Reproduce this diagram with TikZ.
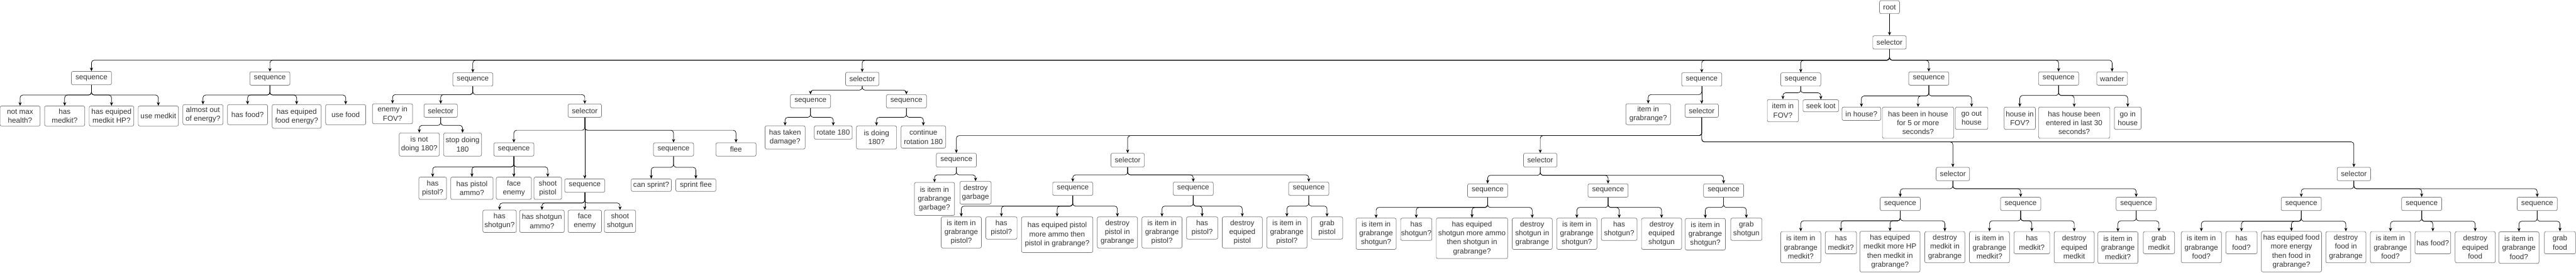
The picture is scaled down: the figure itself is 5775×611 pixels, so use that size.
\documentclass[tikz,border=0pt]{standalone}
\usepackage{fontspec}
\setmainfont{Liberation Sans}
\usetikzlibrary{arrows.meta,calc}
\definecolor{bstroke}{HTML}{767676}
\definecolor{btext}{HTML}{333333}
\tikzset{
 bnode/.style={draw=bstroke, line width=1pt, rounded corners=3.5pt, fill=white, text=btext, inner sep=0pt, align=center, font=\fontsize{16.5pt}{20pt}\selectfont},
 conn/.style={draw=black, line width=1pt, rounded corners=6pt, -{Stealth[length=8pt,width=7pt]}}
}
\newcommand\bx[6]{\node[bnode,minimum width=#4pt,minimum height=#5pt] (#1) at (#2pt,-#3pt) {#6};}
\newcommand\ed[3]{\draw[conn] let \p1=(#1.south), \p2=(#2.north) in (\p1) -- (\x1,-#3pt) -- (\x2,-#3pt) -- (\p2);}
\newcommand\sed[2]{\draw[conn] (#1.south) -- (#2.north);}
\begin{document}
\begin{tikzpicture}
\useasboundingbox (0pt,0pt) rectangle (5775pt,-611pt);
% top
\bx{root}{4236}{16}{45}{29}{root}
\bx{sel0}{4236}{95}{75}{30}{selector}
% A
\bx{A}{205}{175}{90}{30}{sequence}
\bx{a1}{45}{260}{90}{45}{not max\\health?}
\bx{a2}{145}{260}{90}{45}{has\\medkit?}
\bx{a3}{250}{260}{100}{45}{has equiped\\medkit HP?}
\bx{a4}{355}{260}{90}{45}{use medkit}
% B
\bx{B}{605}{176}{90}{30}{sequence}
\bx{b1}{455}{257}{90}{45}{almost out\\of energy?}
\bx{b2}{555}{257}{90}{45}{has food?}
\bx{b3}{665}{261}{110}{53}{has equiped\\food energy?}
\bx{b4}{775}{257}{90}{45}{use food}
% C
\bx{C}{1060}{178}{90}{30}{sequence}
\bx{c1}{880}{255}{90}{45}{enemy in\\FOV?}
\bx{c2}{988}{248}{75}{30}{selector}
\bx{c21}{940}{324}{90}{52}{is not\\doing 180?}
\bx{c22}{1037}{324}{85}{52}{stop doing\\180}
\bx{c3}{1311}{248}{75}{30}{selector}
\bx{c31}{1152}{335}{90}{30}{sequence}
\bx{c311}{970}{422}{62}{50}{has\\pistol?}
\bx{c312}{1058}{422}{95}{50}{has pistol\\ammo?}
\bx{c313}{1152}{422}{79}{50}{face\\enemy}
\bx{c314}{1228}{422}{62}{50}{shoot\\pistol}
\bx{c32}{1311}{416}{90}{30}{sequence}
\bx{c321}{1120}{496}{75}{50}{has\\shotgun?}
\bx{c322}{1215}{496}{100}{50}{has shotgun\\ammo?}
\bx{c323}{1311}{496}{75}{50}{face\\enemy}
\bx{c324}{1390}{496}{70}{50}{shoot\\shotgun}
\bx{c33}{1510}{335}{90}{30}{sequence}
\bx{c331}{1460}{415}{90}{28}{can sprint?}
\bx{c332}{1560}{415}{90}{28}{sprint flee}
\bx{c34}{1650}{335}{90}{30}{flee}
% D
\bx{D}{1933}{177}{75}{30}{selector}
\bx{d1}{1817}{227}{90}{30}{sequence}
\bx{d11}{1760}{308}{90}{52}{has taken\\damage?}
\bx{d12}{1868}{297}{85}{30}{rotate 180}
\bx{d2}{2032}{227}{90}{30}{sequence}
\bx{d21}{1965}{308}{90}{52}{is doing\\180?}
\bx{d22}{2070}{307}{100}{50}{continue\\rotation 180}
% E
\bx{E}{3815}{178}{90}{30}{sequence}
\bx{e1}{3695}{256}{100}{47}{item in\\grabrange?}
\bx{e2}{3815}{248}{75}{30}{selector}
\bx{f1}{2144}{359}{90}{31}{sequence}
\bx{f11}{2095}{446}{90}{74}{is item in\\grabrange\\garbage?}
\bx{f12}{2187}{432}{70}{51}{destroy\\garbage}
\bx{g}{2528}{359}{75}{31}{selector}
\bx{g1}{2405}{423}{90}{30}{sequence}
\bx{g11}{2155}{521}{90}{70}{is item in\\grabrange\\pistol?}
\bx{g12}{2245}{511}{70}{50}{has\\pistol?}
\bx{g13}{2370}{526}{160}{80}{has equiped pistol\\more ammo then\\pistol in grabrange?}
\bx{g14}{2505}{521}{90}{70}{destroy\\pistol in\\grabrange}
\bx{g2}{2675}{423}{90}{30}{sequence}
\bx{g21}{2605}{521}{90}{70}{is item in\\grabrange\\pistol?}
\bx{g22}{2695}{511}{70}{50}{has\\pistol?}
\bx{g23}{2785}{521}{90}{70}{destroy\\equiped\\pistol}
\bx{g3}{2934}{423}{90}{30}{sequence}
\bx{g31}{2885}{521}{90}{70}{is item in\\grabrange\\pistol?}
\bx{g32}{2975}{511}{70}{50}{grab\\pistol}
\bx{h}{3453}{359}{75}{31}{selector}
\bx{h1}{3335}{427}{90}{30}{sequence}
\bx{h11}{3085}{524}{90}{70}{is item in\\grabrange\\shotgun?}
\bx{h12}{3175}{514}{70}{50}{has\\shotgun?}
\bx{h13}{3300}{534}{160}{91}{has equiped\\shotgun more ammo\\then shotgun in\\grabrange?}
\bx{h14}{3435}{524}{90}{70}{destroy\\shotgun in\\grabrange}
\bx{h2}{3605}{427}{90}{30}{sequence}
\bx{h21}{3535}{524}{90}{70}{is item in\\grabrange\\shotgun?}
\bx{h22}{3630}{514}{80}{50}{has\\shotgun?}
\bx{h23}{3725}{524}{90}{70}{destroy\\equiped\\shotgun}
\bx{h3}{3864}{427}{90}{30}{sequence}
\bx{h31}{3823}{525}{90}{71}{is item in\\grabrange\\shotgun?}
\bx{h32}{3915}{514}{70}{50}{grab\\shotgun}
\bx{i}{4378}{390}{75}{30}{selector}
\bx{i1}{4260}{457}{90}{30}{sequence}
\bx{i11}{4037}{554}{90}{70}{is item in\\grabrange\\medkit?}
\bx{i12}{4127}{544}{70}{50}{has\\medkit?}
\bx{i13}{4237}{564}{135}{91}{has equiped\\medkit more HP\\then medkit in\\grabrange?}
\bx{i14}{4360}{554}{90}{70}{destroy\\medkit in\\grabrange}
\bx{i2}{4530}{457}{90}{30}{sequence}
\bx{i21}{4460}{554}{90}{70}{is item in\\grabrange\\medkit?}
\bx{i22}{4555}{544}{80}{50}{has\\medkit?}
\bx{i23}{4650}{554}{90}{70}{destroy\\equiped\\medkit}
\bx{i3}{4789}{457}{90}{30}{sequence}
\bx{i31}{4748}{555}{90}{71}{is item in\\grabrange\\medkit?}
\bx{i32}{4840}{544}{70}{50}{grab\\medkit}
\bx{j}{5277}{390}{75}{30}{selector}
\bx{j1}{5159}{457}{90}{30}{sequence}
\bx{j11}{4935}{554}{90}{70}{is item in\\grabrange\\food?}
\bx{j12}{5025}{544}{70}{50}{has\\food?}
\bx{j13}{5137}{564}{135}{91}{has equiped food\\more energy\\then food in\\grabrange?}
\bx{j14}{5259}{554}{90}{70}{destroy\\food in\\grabrange}
\bx{j2}{5429}{457}{90}{30}{sequence}
\bx{j21}{5359}{554}{90}{70}{is item in\\grabrange\\food?}
\bx{j22}{5454}{544}{80}{50}{has food?}
\bx{j23}{5549}{554}{90}{70}{destroy\\equiped\\food}
\bx{j3}{5688}{457}{90}{30}{sequence}
\bx{j31}{5647}{555}{90}{71}{is item in\\grabrange\\food?}
\bx{j32}{5739}{544}{70}{50}{grab\\food}
% F
\bx{F}{4037}{178}{90}{30}{sequence}
\bx{k1}{3997}{248}{70}{50}{item in\\FOV?}
\bx{k2}{4082}{237}{80}{27}{seek loot}
% G
\bx{G}{4324}{176}{90}{30}{sequence}
\bx{l1}{4173}{255}{87}{30}{in house?}
\bx{l2}{4300}{275}{160}{70}{has been in house\\for 5 or more\\seconds?}
\bx{l3}{4420}{265}{73}{50}{go out\\house}
% H
\bx{H}{4615}{176}{90}{30}{sequence}
\bx{m1}{4528}{265}{70}{50}{house in\\FOV?}
\bx{m2}{4650}{275}{160}{70}{has house been\\entered in last 30\\seconds?}
\bx{m3}{4770}{265}{60}{50}{go in\\house}
\bx{w}{4735}{176}{69}{30}{wander}
% edges
\sed{root}{sel0}
\foreach \c in {A,B,C,D,E,F,G,H,w} {\ed{sel0}{\c}{135}}
\foreach \c in {a1,a2,a3,a4} {\ed{A}{\c}{213}}
\foreach \c in {b1,b2,b3,b4} {\ed{B}{\c}{213}}
\foreach \c in {c1,c2,c3} {\ed{C}{\c}{212}}
\foreach \c in {c21,c22} {\ed{c2}{\c}{281}}
\foreach \c in {c31,c33,c34} {\ed{c3}{\c}{292}}
\sed{c3}{c32}
\foreach \c in {c311,c312,c314} {\ed{c31}{\c}{374}}
\sed{c31}{c313}
\foreach \c in {c321,c322,c324} {\ed{c32}{\c}{455}}
\sed{c32}{c323}
\foreach \c in {c331,c332} {\ed{c33}{\c}{375}}
\foreach \c in {d1,d2} {\ed{D}{\c}{202}}
\foreach \c in {d11,d12} {\ed{d1}{\c}{263}}
\foreach \c in {d21,d22} {\ed{d2}{\c}{263}}
\ed{E}{e1}{212}
\sed{E}{e2}
\foreach \c in {f1,g,h} {\ed{e2}{\c}{304}}
\foreach \c in {i,j} {\ed{e2}{\c}{318}}
\foreach \c in {f11,f12} {\ed{f1}{\c}{392}}
\foreach \c in {g1,g2,g3} {\ed{g}{\c}{392}}
\foreach \c in {g11,g12,g13,g14} {\ed{g1}{\c}{462}}
\foreach \c in {g21,g22,g23} {\ed{g2}{\c}{462}}
\foreach \c in {g31,g32} {\ed{g3}{\c}{462}}
\foreach \c in {h1,h2,h3} {\ed{h}{\c}{393}}
\foreach \c in {h11,h12,h13,h14} {\ed{h1}{\c}{465}}
\foreach \c in {h21,h22,h23} {\ed{h2}{\c}{465}}
\foreach \c in {h31,h32} {\ed{h3}{\c}{465}}
\foreach \c in {i1,i2,i3} {\ed{i}{\c}{423}}
\foreach \c in {i11,i12,i13,i14} {\ed{i1}{\c}{495}}
\foreach \c in {i21,i22,i23} {\ed{i2}{\c}{495}}
\foreach \c in {i31,i32} {\ed{i3}{\c}{495}}
\foreach \c in {j1,j2,j3} {\ed{j}{\c}{423}}
\foreach \c in {j11,j12,j13,j14} {\ed{j1}{\c}{496}}
\foreach \c in {j21,j22,j23} {\ed{j2}{\c}{496}}
\foreach \c in {j31,j32} {\ed{j3}{\c}{496}}
\foreach \c in {k1,k2} {\ed{F}{\c}{208}}
\foreach \c in {l1,l2,l3} {\ed{G}{\c}{215}}
\foreach \c in {m1,m2,m3} {\ed{H}{\c}{214}}
\end{tikzpicture}
\end{document}
